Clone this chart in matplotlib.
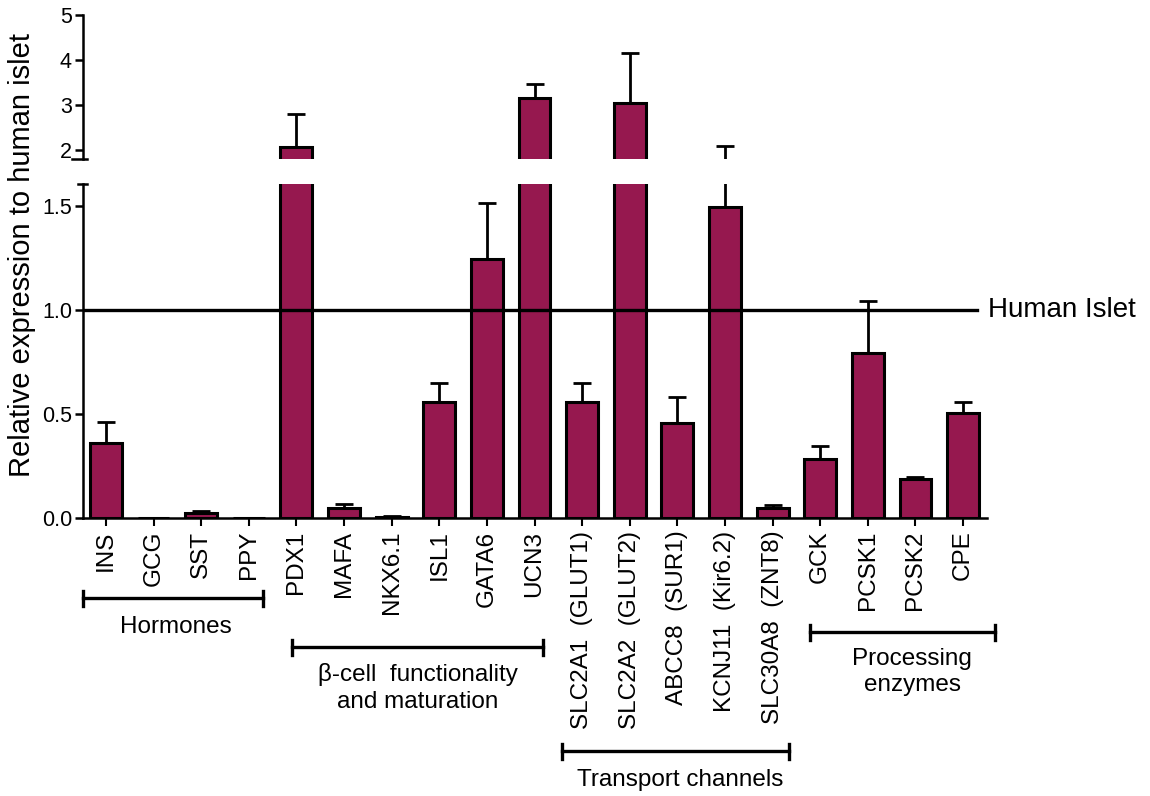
import matplotlib
matplotlib.use("Agg")
import matplotlib.pyplot as plt
import matplotlib.transforms as mtransforms
import numpy as np

plt.rcParams['font.family'] = ['Liberation Sans', 'DejaVu Sans']

# Expression of each gene relative to human islet (mean and upper SEM)
genes = ["INS", "GCG", "SST", "PPY",
         "PDX1", "MAFA", "NKX6.1", "ISL1", "GATA6", "UCN3",
         "SLC2A1  (GLUT1)", "SLC2A2  (GLUT2)", "ABCC8  (SUR1)",
         "KCNJ11  (Kir6.2)", "SLC30A8  (ZNT8)",
         "GCK", "PCSK1", "PCSK2", "CPE"]
means = [0.36, 0.0, 0.025, 0.0,
         2.07, 0.05, 0.005, 0.56, 1.245, 3.16,
         0.56, 3.04, 0.455, 1.495, 0.05,
         0.285, 0.795, 0.19, 0.505]
errors = [0.10, 0.0, 0.01, 0.0,
          0.73, 0.017, 0.003, 0.09, 0.27, 0.31,
          0.09, 1.12, 0.125, 0.595, 0.012,
          0.062, 0.25, 0.008, 0.053]

group_names = ["Hormones",
               "\u03b2-cell  functionality\nand maturation",
               "Transport channels",
               "Processing\nenzymes"]

reference_level = 1.0
bar_color = "#96184f"

# bracket span (x units), label centre (x units), bracket / label rows (px)
bracket_spans = [(-0.48, 3.3), (3.9, 9.18), (9.58, 14.35), (14.79, 18.66)]
label_centres = [1.47, 6.55, 12.06, 16.93]
bracket_rows = [598, 647, 751, 632]
label_rows = [627, 688, 780, 672]

fig = plt.figure(figsize=(11.5, 7.96), dpi=100)
ax_lo = fig.add_axes([0.0722, 0.3492, 0.786, 0.4196])
ax_hi = fig.add_axes([0.0722, 0.8003, 0.786, 0.1809], sharex=ax_lo)

x = np.arange(len(genes))
for ax in (ax_lo, ax_hi):
    ax.bar(x, means, width=0.67, color=bar_color, edgecolor="black",
           linewidth=2.2, zorder=2)
    ax.errorbar(x, means, yerr=[np.zeros(len(errors)), errors], fmt="none",
                ecolor="black", elinewidth=2, capsize=6.5, capthick=2,
                zorder=3)
    for side in ("top", "right"):
        ax.spines[side].set_visible(False)
    ax.spines["left"].set_linewidth(1.8)
    ax.tick_params(axis="y", length=6, width=1.8, labelsize=15.5, pad=2)

ax_lo.set_xlim(-0.48, 18.5)
ax_lo.set_ylim(0, 1.606)
ax_lo.set_yticks([0.0, 0.5, 1.0, 1.5])
ax_lo.set_yticklabels(["0.0", "0.5", "1.0", "1.5"])
ax_lo.spines["bottom"].set_linewidth(1.8)
ax_lo.set_xticks(x)
ax_lo.set_xticklabels(genes, rotation=90, fontsize=17.5)
ax_lo.tick_params(axis="x", length=6, width=1.5, pad=3)

ax_hi.set_ylim(1.8, 5.0)
ax_hi.set_yticks([2, 3, 4, 5])
ax_hi.spines["bottom"].set_visible(False)
ax_hi.tick_params(axis="x", bottom=False, labelbottom=False)

# Break marks at the ends of the split y axis
ax_hi.plot([-0.012, 0.004], [0, 0], transform=ax_hi.transAxes,
           color="black", lw=1.8, clip_on=False)
ax_lo.plot([-0.006, 0.004], [1, 1], transform=ax_lo.transAxes,
           color="black", lw=1.8, clip_on=False)

# Human islet reference line
ax_lo.axhline(reference_level, xmin=0, xmax=0.989, color="black", lw=2.4,
              zorder=4)
ax_lo.text(1.001, reference_level, "Human Islet",
           transform=mtransforms.blended_transform_factory(ax_lo.transAxes,
                                                           ax_lo.transData),
           fontsize=20, va="center", ha="left")

fig.text(0.019, 0.68, "Relative expression to human islet", rotation=90,
         fontsize=21, va="center", ha="center")

# Group brackets under the gene names
trans = mtransforms.blended_transform_factory(ax_lo.transData,
                                              fig.transFigure)
for name, (x0, x1), xc, by, ly in zip(group_names, bracket_spans,
                                      label_centres, bracket_rows,
                                      label_rows):
    yb = 1 - by / 796
    dy = 7.5 / 796
    ax_lo.plot([x0, x1], [yb, yb], transform=trans, color="black", lw=2.4,
               clip_on=False)
    for xe in (x0, x1):
        ax_lo.plot([xe, xe], [yb - dy, yb + dy], transform=trans,
                   color="black", lw=2.4, clip_on=False)
    ax_lo.text(xc, 1 - ly / 796, name, transform=trans,
               fontsize=17.5, ha="center", va="center", linespacing=1.25)

fig.savefig("out.png", dpi=100)
